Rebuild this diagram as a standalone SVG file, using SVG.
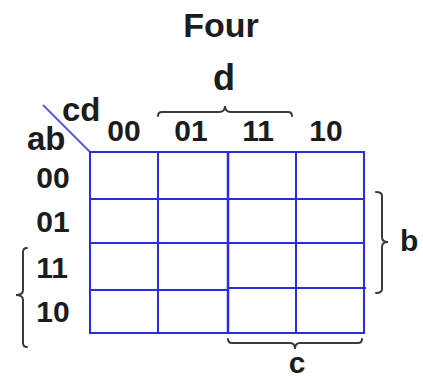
<svg xmlns="http://www.w3.org/2000/svg" width="423" height="378" viewBox="0 0 423 378">
<style>
.t{font-family:"Liberation Sans",Arial,sans-serif;font-weight:bold;fill:#1c1c1c}
.g{stroke:#2b2be0;stroke-width:2;fill:none}
.br{stroke:#3a3a3a;stroke-width:2;fill:none;stroke-linecap:round}
</style>
<rect width="423" height="378" fill="#fff"/>
<g id="title"><text class="t" x="221" y="37" font-size="34" text-anchor="middle">Four</text></g>
<g id="header">
<line x1="43" y1="105" x2="90" y2="152" stroke="#5a5ae8" stroke-width="2"/>
<text class="t" x="62" y="121" font-size="33">cd</text>
<text class="t" x="27" y="150" font-size="33">ab</text>
</g>
<g id="col-labels" class="t" font-size="30" text-anchor="middle">
<text x="124" y="141">00</text>
<text x="191" y="141">01</text>
<text x="258" y="141">11</text>
<text x="326" y="141">10</text>
</g>
<g id="row-labels" class="t" font-size="30" text-anchor="middle">
<text x="53" y="188">00</text>
<text x="53" y="232">01</text>
<text x="52" y="278">11</text>
<text x="53" y="322">10</text>
</g>
<g id="grid" class="g">
<rect x="90" y="152" width="274" height="181"/>
<line x1="158" y1="152" x2="158" y2="333"/>
<line x1="228" y1="152" x2="228" y2="333" stroke-width="2.5"/>
<line x1="296" y1="152" x2="296" y2="333"/>
<line x1="90" y1="199" x2="364" y2="199"/>
<line x1="90" y1="243" x2="364" y2="243"/>
<line x1="90" y1="290" x2="228" y2="290"/>
<line x1="228" y1="288" x2="366" y2="288"/>
</g>
<g id="connectors">
<path class="br" d="M158,116 Q158,112 162,112 L219,112 Q225,112 225,106 Q225,112 231,112 L288,112 Q292,112 292,116"/>
<path class="br" d="M27,248 Q23,248 23,252 L23,290 Q23,295 16,295 Q23,295 23,300 L23,343 Q23,347 27,347"/>
<path class="br" d="M376,192 Q382,192 382,196 L382,237 Q382,242 388,242 Q382,242 382,247 L382,289 Q382,293 376,293"/>
<path class="br" d="M228,339 Q228,343 232,343 L290,343 Q295,343 295,349 Q295,343 300,343 L358,343 Q362,343 362,339"/>
</g>
<g id="brace-labels" class="t" font-size="30">
<text x="224" y="90" font-size="36" text-anchor="middle">d</text>
<text x="400" y="251">b</text>
<text x="297" y="373" text-anchor="middle">c</text>
</g>
</svg>
